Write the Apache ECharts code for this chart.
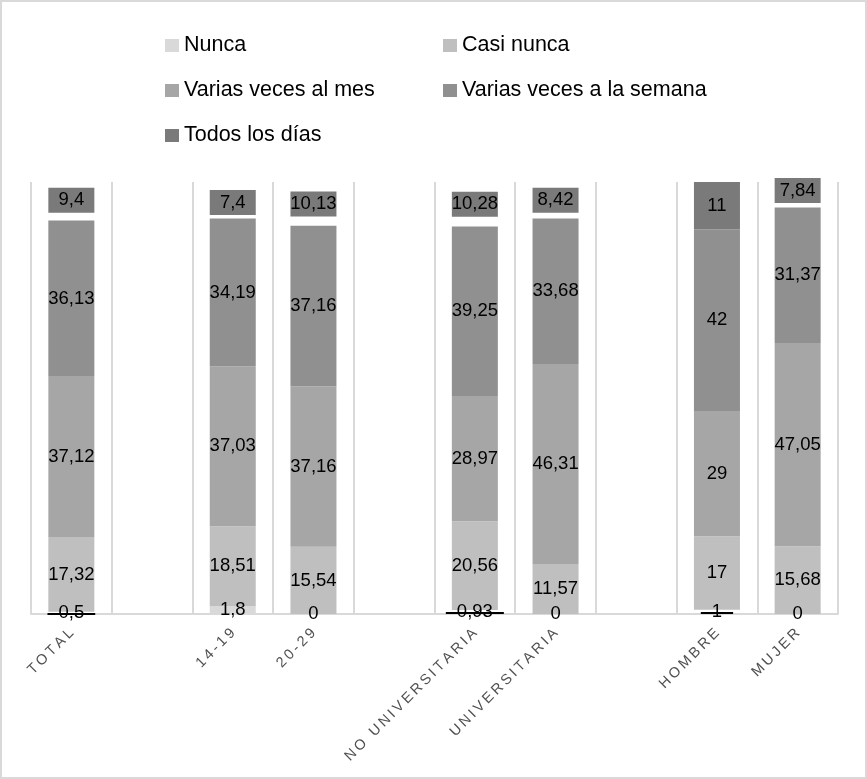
<!DOCTYPE html>
<html>
<head>
<meta charset="utf-8">
<script src="https://cdn.jsdelivr.net/npm/echarts@6/dist/echarts.min.js"></script>
<style>
  html,body{margin:0;padding:0;background:#fff;}
  #wrap{position:relative;width:867px;height:779px;}
  #chart{width:867px;height:779px;}
  #frame{position:absolute;left:0;top:0;width:863px;height:775px;border:2px solid #d9d9d9;pointer-events:none;}
</style>
</head>
<body>
<div id="wrap">
  <div id="chart"></div>
  <div id="frame"></div>
</div>
<script>
// categorias (las vacias son los huecos entre grupos)
const categorias = ['TOTAL', ' ', '14-19', '20-29', '  ', 'NO UNIVERSITARIA', 'UNIVERSITARIA', '   ', 'HOMBRE', 'MUJER'];

const nunca        = [0.5,   null, 1.8,   0,     null, 0.93,  0,     null, 1,  0];
const casiNunca    = [17.32, null, 18.51, 15.54, null, 20.56, 11.57, null, 17, 15.68];
const variasMes    = [37.12, null, 37.03, 37.16, null, 28.97, 46.31, null, 29, 47.05];
const variasSemana = [36.13, null, 34.19, 37.16, null, 39.25, 33.68, null, 42, 31.37];
const todosDias    = [9.4,   null, 7.4,   10.13, null, 10.28, 8.42,  null, 11, 7.84];

const nombres = ['Nunca', 'Casi nunca', 'Varias veces al mes', 'Varias veces a la semana', 'Todos los días'];
const colores = ['#d9d9d9', '#bfbfbf', '#a6a6a6', '#909090', '#7a7a7a'];

const fuente = "'Liberation Sans', Arial, sans-serif";

function coma(v){
  return String(v).replace('.', ',');
}

// tachado: fondo con una franja negra en medio
const tachado = new echarts.graphic.LinearGradient(0, 0, 0, 1, [
  {offset: 0, color: 'rgba(0,0,0,0)'},
  {offset: 0.52, color: 'rgba(0,0,0,0)'},
  {offset: 0.52, color: '#000'},
  {offset: 0.6, color: '#000'},
  {offset: 0.6, color: 'rgba(0,0,0,0)'},
  {offset: 1, color: 'rgba(0,0,0,0)'}
]);

let baseLabel = {
  show: true,
  position: 'inside',
  color: '#000',
  fontFamily: fuente,
  fontSize: 18.5,
  formatter: p => coma(p.value)
};

// Nunca: valores muy pequenos van tachados y sin relleno
let datosNunca = nunca.map(v => {
  if (v !== null && v > 0 && v <= 1) {
    return {
      value: v,
      itemStyle: {color: 'rgba(0,0,0,0)'},
      label: {backgroundColor: tachado, padding: [0, 11], lineHeight: 20}
    };
  }
  return v;
});

// Todos los dias: solo HOMBRE va relleno, el resto es una caja de etiqueta
let datosTodos = todosDias.map((v, i) => {
  if (v === null) return v;
  if (categorias[i] === 'HOMBRE') return v;
  return {
    value: v,
    itemStyle: {color: 'rgba(0,0,0,0)'},
    label: {backgroundColor: '#7a7a7a', width: 46, height: 25, lineHeight: 25, align: 'center'}
  };
});

let valores = [datosNunca, casiNunca, variasMes, variasSemana, datosTodos];

let series = nombres.map((n, k) => ({
  name: n,
  type: 'bar',
  stack: 'total',
  barWidth: 46,
  clip: false,
  data: valores[k],
  itemStyle: {color: colores[k]},
  label: baseLabel,
  emphasis: {disabled: true}
}));

let chart = echarts.init(document.getElementById('chart'));

let leyenda = {
  orient: 'vertical',
  icon: 'rect',
  itemWidth: 14,
  itemHeight: 13,
  itemGap: 20,
  top: 28,
  textStyle: {fontFamily: fuente, fontSize: 21.5, lineHeight: 25, color: '#000'},
  selectedMode: false
};

let option = {
  animation: false,
  backgroundColor: '#fff',
  legend: [
    Object.assign({}, leyenda, {left: 160, data: [nombres[0], nombres[2], nombres[4]]}),
    Object.assign({}, leyenda, {left: 438, data: [nombres[1], nombres[3]]})
  ],
  grid: {left: 31, right: 29, top: 182, bottom: 165},
  xAxis: {
    type: 'category',
    data: categorias,
    axisLine: {lineStyle: {color: '#d9d9d9', width: 2}},
    axisTick: {show: false},
    splitLine: {show: true, lineStyle: {color: '#d9d9d9', width: 2}},
    axisLabel: {
      interval: 0,
      rotate: 45,
      margin: 17,
      color: '#505050',
      fontFamily: fuente,
      fontSize: 14.5,
      formatter: v => v.trim().split('').join('\u2009')
    }
  },
  yAxis: {
    type: 'value',
    min: 0,
    max: 100,
    show: false,
    splitLine: {show: false}
  },
  series: series
};

chart.setOption(option);
</script>
</body>
</html>
